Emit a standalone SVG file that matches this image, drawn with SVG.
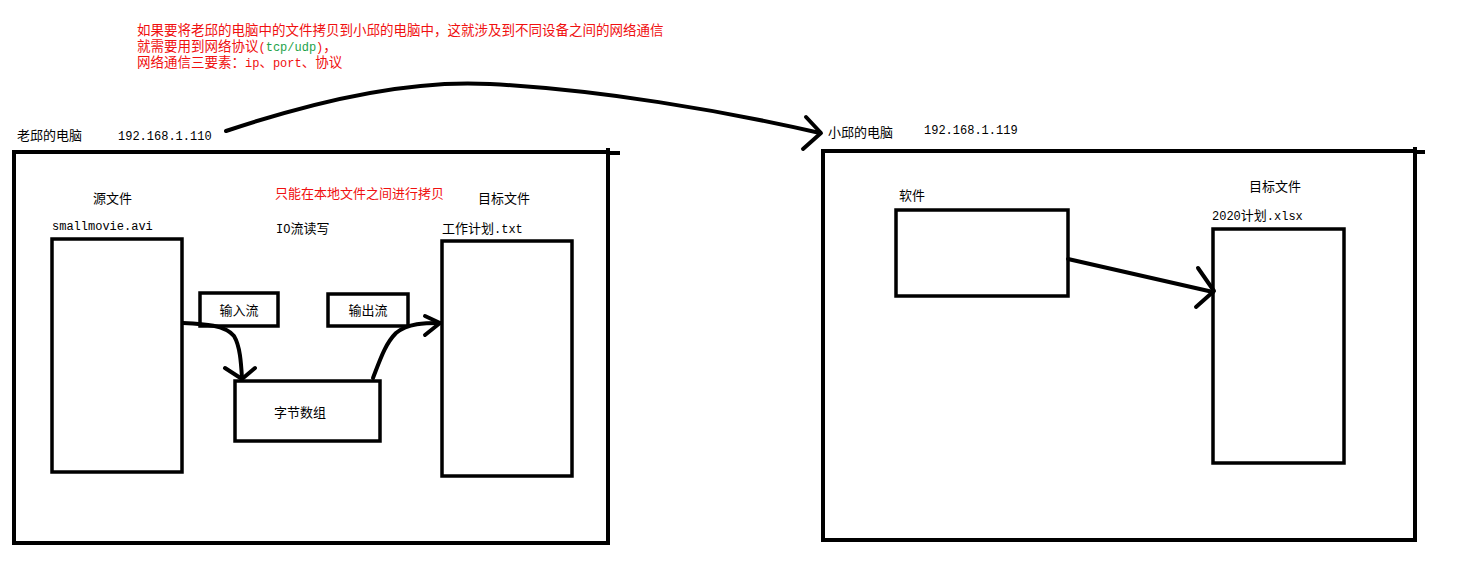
<svg xmlns="http://www.w3.org/2000/svg" width="1468" height="588" viewBox="0 0 1468 588">
<style>
  .bg{fill:#fff}
  .box{fill:none;stroke:#000;stroke-width:4}
  .sbox{fill:none;stroke:#000;stroke-width:3.5}
  .ln{fill:none;stroke:#000;stroke-width:4;stroke-linecap:round;stroke-linejoin:round}
  .t{font-family:"Noto Sans CJK SC","Liberation Sans",sans-serif;font-size:13px;fill:#000}
  .m{font-family:"Liberation Mono","Noto Sans CJK SC",monospace;font-size:12px}
  .red{fill:#f01010}
  .grn{fill:#1ea24a}
  .title{font-family:"Liberation Sans","Noto Sans CJK SC",sans-serif;font-size:13.5px}
</style>
<rect class="bg" x="0" y="0" width="1468" height="588"/>

<g id="note">
  <text class="t red title" x="137" y="35">如果要将老邱的电脑中的文件拷贝到小邱的电脑中，这就涉及到不同设备之间的网络通信</text>
  <text class="t red title" x="137" y="51">就需要用到网络协议</text>
  <text class="t red m" x="258.5" y="51">(</text>
  <text class="t grn m" x="265.7" y="51">tcp/udp</text>
  <text class="t red m" x="316.1" y="51">)</text>
  <text class="t red title" x="323.3" y="51">，</text>
  <text class="t red title" x="137" y="67">网络通信三要素：</text>
  <text class="t red m" x="245" y="67">ip</text>
  <text class="t red title" x="259.4" y="67">、</text>
  <text class="t red m" x="272.9" y="67">port</text>
  <text class="t red title" x="301.7" y="67">、</text>
  <text class="t red title" x="315.2" y="67">协议</text>
</g>

<g id="pc-teacher">
  <rect class="box" x="14" y="152" width="594" height="391"/>
  <line class="box" x1="608" y1="153" x2="620" y2="153"/>
  <line class="box" x1="608" y1="148" x2="608" y2="153"/>
  <text class="t" x="17" y="140">老邱的电脑</text>
  <text class="t m" x="118" y="140">192.168.1.110</text>
  <text class="t red" x="275" y="198">只能在本地文件之间进行拷贝</text>
  <text class="t m" x="276" y="233">IO</text>
  <text class="t" x="290.4" y="233">流读写</text>
</g>

<g id="source-file">
  <rect class="sbox" x="52" y="239" width="130" height="233"/>
  <text class="t" x="93" y="203">源文件</text>
  <text class="t m" x="52" y="230">smallmovie.avi</text>
</g>

<g id="target-file">
  <rect class="sbox" x="442" y="241" width="130" height="235"/>
  <text class="t" x="478" y="203">目标文件</text>
  <text class="t" x="442" y="233">工作计划</text>
  <text class="t m" x="494" y="233">.txt</text>
</g>

<g id="input-stream">
  <rect class="sbox" x="200" y="293" width="78" height="33"/>
  <text class="t" x="239" y="315" text-anchor="middle">输入流</text>
</g>

<g id="output-stream">
  <rect class="sbox" x="328" y="294" width="80" height="32"/>
  <text class="t" x="368" y="315" text-anchor="middle">输出流</text>
</g>

<g id="byte-array">
  <rect class="sbox" x="235" y="381" width="145" height="60"/>
  <text class="t" x="300" y="417" text-anchor="middle">字节数组</text>
</g>

<g id="pc-student">
  <rect class="box" x="823" y="151" width="592" height="389"/>
  <line class="box" x1="1415" y1="152" x2="1425" y2="152"/>
  <line class="box" x1="1415" y1="147" x2="1415" y2="152"/>
  <text class="t" x="828" y="137">小邱的电脑</text>
  <text class="t m" x="924" y="134">192.168.1.119</text>
</g>

<g id="software">
  <rect class="sbox" x="896" y="210" width="172" height="86"/>
  <text class="t" x="899" y="200">软件</text>
</g>

<g id="target-xlsx">
  <rect class="sbox" x="1213" y="229" width="131" height="234"/>
  <text class="t" x="1249" y="191">目标文件</text>
  <text class="t m" x="1212" y="220">2020</text>
  <text class="t" x="1240.8" y="220">计划</text>
  <text class="t m" x="1266.8" y="220">.xlsx</text>
</g>

<g id="connectors">
  <path class="ln" d="M226,131 C330,96 420,80 490,84 C600,90 720,110 820,133"/>
  <path class="ln" d="M806,117 L821,133 L803,149"/>
  <path class="ln" d="M183,323 C205,324 225,325 234,336 C240,346 241,362 242,378"/>
  <path class="ln" d="M225,368 L242,379 L255,368"/>
  <path class="ln" d="M373,378 C380,360 385,344 396,333 C408,323 425,323 440,323"/>
  <path class="ln" d="M425,316 L440,323 L425,335"/>
  <path class="ln" d="M1068,259 L1213,292"/>
  <path class="ln" d="M1198,268 L1214,291 L1196,307"/>
</g>
</svg>
